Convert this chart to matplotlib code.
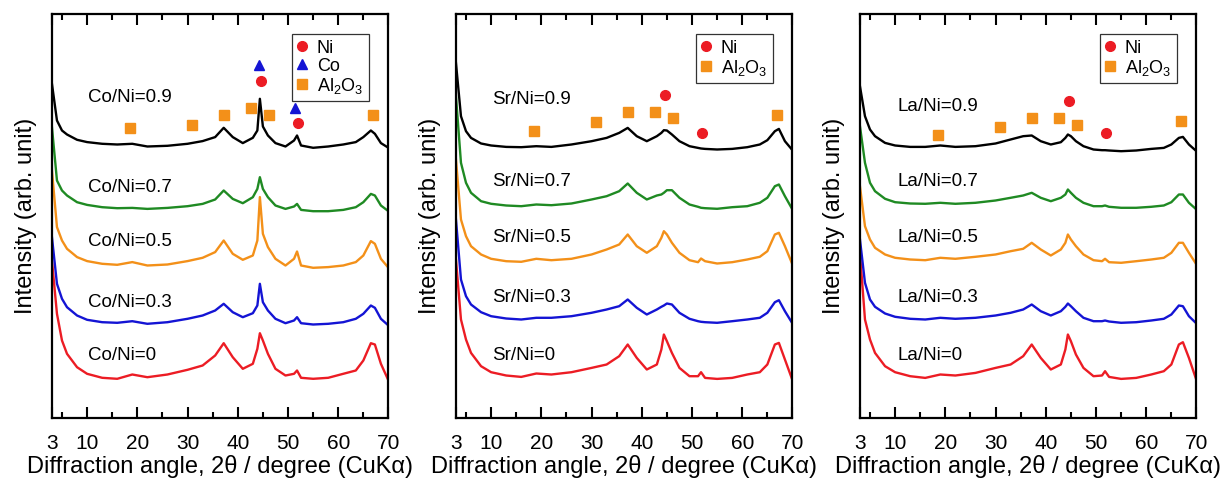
import matplotlib
matplotlib.use("Agg")
from matplotlib import pyplot as plt
from matplotlib.lines import Line2D

plt.rcParams["font.family"] = ["Liberation Sans", "DejaVu Sans"]
plt.rcParams["mathtext.default"] = "regular"

# diffraction angle grid (2theta, degree)
ANGLE = [3, 4, 5, 6, 8, 10, 13, 16, 19, 22, 26, 30, 33, 35.5, 37.2, 39, 41,
         43, 43.9, 44.4, 45, 46, 47.5, 49.5, 51.2, 51.8, 52.6, 55, 58, 61,
         63.5, 65, 66.5, 67.3, 68.5, 70]

RATIOS = ["0", "0.3", "0.5", "0.7", "0.9"]
COLORS = ["#ec1c24", "#1414d4", "#f39019", "#1f8a23", "#000000"]

# intensity above each pattern's own baseline (arb. unit)
CO_0 = [120, 66.7, 40, 26.7, 13.3, 6.7, 2.7, 1.7, 6, 3.3, 6, 10.7, 15, 25,
        37.3, 23.3, 11.7, 16.7, 31.7, 47.3, 40, 26.7, 11.7, 5, 6.7, 10, 2.7,
        1.7, 2.7, 6.7, 10, 20, 37.3, 36, 16.7, 0]
CO_03 = [88.3, 41.7, 26.7, 18.3, 10, 5.7, 3.3, 2.7, 4.3, 1.7, 3.3, 6.7, 10,
         15, 21.7, 13.3, 8.3, 12.3, 20, 41.7, 23.3, 15, 6.7, 2.3, 5, 8.3, 2.3,
         1, 1.7, 3.3, 6.7, 11.7, 20, 17.7, 6.7, 0]
CO_05 = [97.3, 40.7, 27.3, 19, 10.7, 6.7, 4, 3, 5.7, 2.3, 3.3, 6.7, 10, 15.7,
         27.3, 14, 8, 12.3, 27.3, 70.7, 34, 20.7, 9, 2.3, 9, 16.3, 2.3, 0,
         0.7, 2.3, 5.7, 12.3, 26.7, 24, 9, 0]
CO_07 = [84, 30.7, 20.7, 15.7, 9, 6.3, 4, 3, 3.3, 2.3, 3.3, 5, 7.3, 11.7,
         20.7, 12.3, 8, 14, 22.3, 34, 22.3, 14, 5.7, 2.3, 4.7, 7.3, 1.3, 0, 0,
         1.3, 4, 9, 17.3, 15.7, 5.7, 0]
CO_09 = [64, 27.3, 17.3, 13.3, 8, 5.7, 4, 3.3, 4, 1.3, 2, 4, 6.7, 10.7, 20,
         10.7, 4.7, 10, 17.3, 49, 21.3, 12.3, 4.7, 1.3, 7.3, 12.3, 2.3, 0,
         1.3, 3.3, 5.7, 10.7, 17.3, 14, 4.7, 0]

SR_0 = [120.7, 60.7, 40.7, 27.3, 14, 8, 4.7, 3.3, 6.7, 5.7, 8, 12.3, 15.7, 24,
        35.7, 22.3, 10.7, 15.7, 30.7, 45.7, 39, 27.3, 12.3, 4, 4, 8, 2.3,
        1.3, 2.3, 5.7, 8, 15.7, 35.7, 37.3, 20.7, 0]
SR_03 = [104, 44, 27.3, 19, 11.3, 7.3, 5, 4, 5.7, 5.7, 7.3, 10.7, 14, 17.3,
         24, 15.7, 9, 14, 16.7, 18, 20, 19, 10.7, 4.7, 2.3, 1.7, 1.3, 0.7,
         2.3, 4, 5.7, 10.7, 21.3, 23.3, 12.3, 0]
SR_05 = [105, 45, 28.3, 18.3, 10, 5.7, 3.3, 2.7, 5.7, 4.3, 5.7, 10, 15, 20,
         30, 18.3, 11.7, 18.3, 26.7, 33.3, 30, 21.7, 11.7, 4.3, 2.3, 6, 3.3,
         1, 2.3, 5, 7.7, 13.3, 30, 31.7, 18.3, 0]
SR_07 = [113.3, 46.7, 26.7, 16.7, 8.3, 5.7, 4, 3.3, 5, 4.3, 6, 10, 13.3,
         18.3, 26, 16.7, 10, 14, 15, 16.7, 19.3, 19.3, 11.7, 5, 2.7, 1.7, 1.3,
         0.7, 2.3, 3.3, 6.7, 11.7, 23.3, 25, 13.3, 0]
SR_09 = [87.3, 34, 19, 12.3, 6.7, 4.7, 3.3, 3, 4, 3.3, 5.7, 9, 12.3, 17.3,
         22.3, 14, 9, 14, 17.3, 20, 19.7, 15.7, 9, 4, 2.3, 1.7, 1.3, 0.7, 1.3,
         3, 5.7, 10, 19, 21.3, 9, 0]

LA_0 = [127.3, 60.7, 40.7, 27.3, 14, 8, 4, 2.3, 5.7, 4.7, 7.3, 12.3, 15.7, 24,
        35.7, 22.3, 10.7, 15.7, 30.7, 45.7, 39, 25.7, 12.3, 4, 4.7, 9, 3.3,
        1.3, 2.3, 5.7, 9, 15.7, 35.7, 38, 22.3, 0]
LA_03 = [84, 40.7, 24, 16.7, 10, 6.7, 4.7, 4, 5.7, 4.7, 5.7, 8, 10.7, 14, 19,
         12.3, 8, 12.3, 16.7, 20, 17.3, 12.3, 5.7, 2.3, 2.3, 3, 2, 0.7, 1.3,
         3, 4.7, 9, 18, 17.3, 7.3, 0]
LA_05 = [78.3, 38.3, 25, 16.7, 10, 6.7, 5, 4.3, 6.7, 5.7, 7.7, 10, 13.3, 15.7,
         21.7, 15, 9, 15, 21.7, 30, 25, 18.3, 10, 4.3, 3.3, 5.7, 2.3, 1.7,
         3.3, 5, 6.7, 11.7, 21.7, 21.7, 11.7, 0]
LA_07 = [83.3, 46.7, 26.7, 18.3, 10.7, 7.3, 6, 5.7, 6.7, 5.7, 6.7, 9, 11.7,
         14, 16.7, 11.7, 8.3, 11.7, 15, 20, 16.7, 11.7, 6.7, 3.3, 3.3, 4, 2.7,
         1.7, 1.7, 2.7, 4, 7.3, 15, 15, 6.7, 0]
LA_09 = [65, 35, 21.7, 15, 8.3, 5.7, 4.3, 4.3, 5.7, 4.3, 5, 7.7, 11.7, 15,
         15.7, 10, 6.7, 9, 13.3, 16.7, 15, 10, 5, 1.7, 1, 1, 0.7, 0, 0.7, 2.3,
         3.3, 6.7, 13.3, 14.3, 6.7, 0]

# vertical stacking offsets (0, 0.3, 0.5, 0.7, 0.9)
CO_OFFSETS = [37, 92, 149.7, 206.3, 269.7]
SR_OFFSETS = [37.3, 94, 153, 208, 267.3]
LA_OFFSETS = [37.3, 94, 153, 208, 266.3]

CO_LABEL_Y = [62, 115, 176, 230, 320]
SR_LABEL_Y = [62, 120, 180, 236, 318]
LA_LABEL_Y = [62, 120, 180, 236, 311]

# phase markers: angle, height
AL2O3_ANGLE = [18.6, 30.9, 37.3, 42.7, 46.3, 67.0]
CO_AL2O3_Y = [289, 292, 302, 309, 302, 302]
SR_AL2O3_Y = [286, 295, 305, 305, 299, 302]
LA_AL2O3_Y = [282, 290, 299, 299, 292, 296]
NI_ANGLE = [44.6, 51.9]
CO_NI_Y = [336, 294]
SR_NI_Y = [322, 284]
LA_NI_Y = [316, 284]
CO_PHASE_ANGLE = [44.3, 51.3]
CO_PHASE_Y = [352, 309]

RED = "#ec1c24"
BLUE = "#1414d4"
ORANGE = "#f39019"

panels = [
    ("Co", [CO_0, CO_03, CO_05, CO_07, CO_09], CO_OFFSETS, CO_LABEL_Y,
     CO_AL2O3_Y, CO_NI_Y, True, 10.2),
    ("Sr", [SR_0, SR_03, SR_05, SR_07, SR_09], SR_OFFSETS, SR_LABEL_Y,
     SR_AL2O3_Y, SR_NI_Y, False, 10.2),
    ("La", [LA_0, LA_03, LA_05, LA_07, LA_09], LA_OFFSETS, LA_LABEL_Y,
     LA_AL2O3_Y, LA_NI_Y, False, 10.4),
]
lefts = [0.0424, 0.3722, 0.7020]

fig = plt.figure(figsize=(12.25, 4.83), dpi=100)

for (elem, profiles, offsets, label_y, al_y, ni_y, with_co, lx), left in zip(panels, lefts):
    ax = fig.add_axes([left, 0.1356, 0.2747, 0.8344])
    for prof, off, col, ratio, ly in zip(profiles, offsets, COLORS, RATIOS, label_y):
        ax.plot(ANGLE, [v + off for v in prof], color=col, lw=1.7,
                solid_joinstyle="round")
        ax.text(lx, ly, f"{elem}/Ni={ratio}", fontsize=13.5, va="center",
                ha="left")
    ax.plot(AL2O3_ANGLE, al_y, "s", color=ORANGE, ms=7, ls="none")
    ax.plot(NI_ANGLE, ni_y, "o", color=RED, ms=7, ls="none")
    handles = [Line2D([], [], marker="o", color=RED, ls="none", ms=7)]
    names = ["Ni"]
    if with_co:
        ax.plot(CO_PHASE_ANGLE, CO_PHASE_Y, "^", color=BLUE, ms=7.5,
                ls="none")
        handles.append(Line2D([], [], marker="^", color=BLUE, ls="none",
                              ms=7.5))
        names.append("Co")
    handles.append(Line2D([], [], marker="s", color=ORANGE, ls="none", ms=7))
    names.append("Al$_2$O$_3$")
    leg = ax.legend(handles, names, loc="upper right", fontsize=13,
                    frameon=True, fancybox=False, edgecolor="black",
                    handlelength=0.6, handletextpad=0.5, borderpad=0.3,
                    labelspacing=0.05, borderaxespad=1.1)
    leg.get_frame().set_linewidth(0.9)

    ax.set_xlim(3, 70)
    ax.set_ylim(0, 403)
    ax.set_xticks([3, 10, 20, 30, 40, 50, 60, 70])
    ax.set_xticks([5, 15, 25, 35, 45, 55, 65], minor=True)
    ax.set_yticks([])
    ax.tick_params(axis="x", which="both", direction="in", top=True,
                   labelsize=15, pad=12)
    ax.tick_params(axis="x", which="major", length=8, width=1.5)
    ax.tick_params(axis="x", which="minor", length=4.5, width=1.5)
    for sp in ax.spines.values():
        sp.set_linewidth(1.6)
    ax.set_xlabel("Diffraction angle, 2\u03b8 / degree (CuK\u03b1)",
                  fontsize=17, labelpad=1)
    ax.set_ylabel("Intensity (arb. unit)", fontsize=17, labelpad=11)

fig.savefig("out.png", dpi=100)
